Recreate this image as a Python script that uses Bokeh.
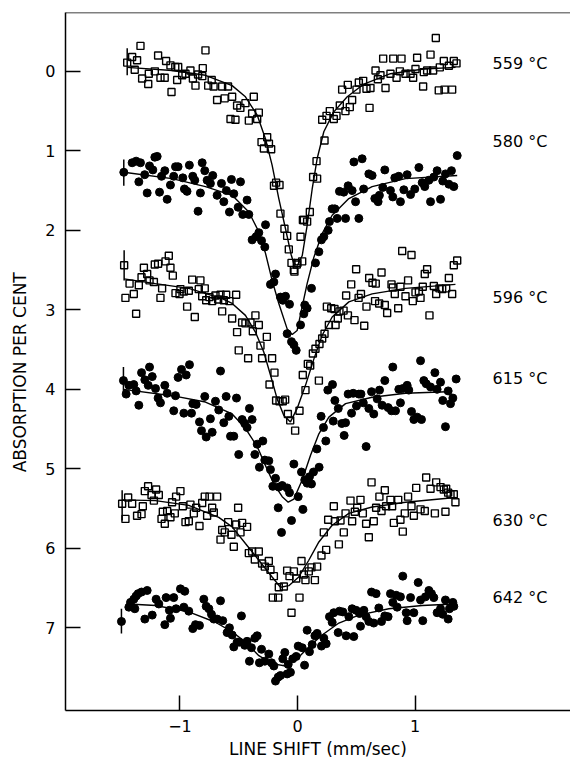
from bokeh.plotting import figure
from bokeh.models import Range1d, FixedTicker, Span
from bokeh.embed import file_html
from bokeh.resources import INLINE
from bokeh.core.properties import value

# ---------------- data ----------------
temps = ["559 °C", "580 °C", "596 °C", "615 °C", "630 °C", "642 °C"]
temp_label_y = [-0.10, 0.88, 2.84, 3.86, 5.65, 6.62]

x_ticks = [-1, 0, 1]
y_ticks = [0, 1, 2, 3, 4, 5, 6, 7]

# 559 C  (open squares)
s559_x = [-1.449, -1.336, -1.407, -1.365, -1.385, -1.186, -1.118, -1.081, -1.04, -1.015, -0.783, -0.806,
          -1.214, -1.265, -1.322, -1.27, -1.166, -1.13, -1.072, -1.024, -0.981, -0.953, -0.911, -0.89,
          -0.868, -0.846, -0.81, -0.76, -0.73, -0.714, -0.684, -0.641, -0.62, -0.591, -0.556, -0.57,
          -0.528, -0.514, -0.486, -0.443, -0.372, -0.414, -0.386, -0.329, -0.343, -0.258, -0.306, -0.243,
          -0.286, -0.224, -0.182, -0.2, -0.153, -0.145, -0.111, -0.088, -0.074, -0.051, -0.026, -0.006,
          0.026, 0.046, -0.031, 0.0, 0.04, 0.054, 0.082, 0.105, 0.133, 0.167, 0.162, 0.23,
          0.21, 0.247, 0.275, 0.309, 0.332, 0.36, 0.408, 0.445, 0.465, 0.38, 0.428, 0.502,
          0.522, 0.559, 0.587, 0.621, 0.613, 0.664, 0.706, 0.684, 0.749, 0.791, 0.729, 0.815,
          0.843, 0.871, 0.885, 0.919, 0.962, 0.984, 1.004, 1.018, 1.069, 1.075, 1.103, 1.132,
          1.154, 1.177, 1.202, 1.251, 1.316, 1.211, 1.245, 1.288, 1.33, 1.353]
s559_y = [-0.11, -0.32, -0.18, -0.14, -0.02, -0.20, -0.13, -0.075, -0.055, -0.055, -0.264, -0.04,
          0.0, 0.03, 0.09, 0.16, 0.08, 0.08, 0.26, 0.11, 0.05, 0.03, -0.01, 0.09,
          0.18, 0.04, 0.06, 0.18, 0.11, 0.19, 0.36, 0.19, 0.34, 0.19, 0.32, 0.60,
          0.61, 0.43, 0.46, 0.40, 0.32, 0.62, 0.53, 0.52, 0.60, 0.83, 0.89, 0.91,
          0.97, 0.98, 1.40, 1.44, 1.43, 1.79, 1.98, 2.07, 2.24, 2.41, 2.52, 2.43,
          2.08, 1.87, 2.50, 2.41, 2.39, 1.87, 1.89, 1.77, 1.33, 1.35, 1.13, 0.87,
          0.61, 0.56, 0.50, 0.60, 0.56, 0.43, 0.50, 0.45, 0.36, 0.23, 0.17, 0.23,
          0.14, 0.12, 0.22, 0.21, 0.46, -0.01, 0.05, 0.10, 0.21, 0.03, -0.16, -0.16,
          0.08, 0.0, -0.16, 0.03, 0.03, 0.08, -0.03, -0.17, 0.19, 0.01, -0.01, -0.21,
          -0.01, -0.42, 0.24, 0.23, 0.23, -0.05, -0.13, -0.07, -0.13, -0.10]

# 580 C  (filled circles)
s580_x = [-1.478, -1.407, -1.373, -1.336, -1.35, -1.3, -1.279, -1.259, -1.231, -1.194, -1.214, -1.174,
          -1.157, -1.129, -1.109, -1.081, -1.053, -1.038, -1.016, -0.976, -0.962, -0.94, -0.92, -0.891,
          -0.874, -0.846, -0.826, -0.811, -0.789, -0.769, -0.721, -0.741, -0.684, -0.647, -0.627, -0.605,
          -0.579, -0.562, -0.542, -0.505, -0.485, -0.466, -0.429, -0.414, -0.386, -0.352, -0.329, -0.306,
          -0.272, -0.278, -0.187, -0.23, -0.201, -0.145, -0.102, -0.125, -0.068, -0.088, -0.051, -0.031,
          -0.011, 0.026, 0.062, 0.082, 0.054, 0.119, 0.153, 0.182, 0.204, 0.224, 0.261, 0.272,
          0.295, 0.318, 0.338, 0.409, 0.357, 0.394, 0.431, 0.465, 0.48, 0.522, 0.494, 0.55,
          0.563, 0.607, 0.635, 0.658, 0.686, 0.697, 0.743, 0.726, 0.791, 0.811, 0.828, 0.862,
          0.876, 0.905, 0.933, 0.962, 0.998, 1.033, 1.061, 1.083, 1.118, 1.132, 1.16, 1.188,
          1.217, 1.236, 1.259, 1.288, 1.31, 1.33, 1.359]
s580_y = [1.27, 1.15, 1.13, 1.15, 1.39, 1.30, 1.53, 1.19, 1.24, 1.07, 1.08, 1.52,
          1.32, 1.25, 1.61, 1.43, 1.32, 1.20, 1.20, 1.34, 1.48, 1.51, 1.18, 1.32,
          1.37, 1.76, 1.53, 1.15, 1.25, 1.37, 1.31, 1.41, 1.56, 1.41, 1.64, 1.50,
          1.77, 1.36, 1.54, 1.71, 1.39, 1.80, 1.62, 1.80, 2.12, 2.08, 2.03, 2.13,
          1.93, 2.21, 2.55, 2.68, 2.65, 2.84, 2.83, 2.88, 2.93, 3.30, 3.40, 3.44,
          3.51, 3.19, 2.94, 2.98, 3.05, 2.73, 2.41, 2.27, 2.12, 2.08, 2.00, 1.89,
          1.73, 1.73, 1.85, 1.85, 1.51, 1.52, 1.44, 1.50, 1.14, 1.85, 1.64, 1.10,
          1.48, 1.29, 1.31, 1.60, 1.64, 1.56, 1.24, 1.46, 1.50, 1.58, 1.34, 1.32,
          1.64, 1.49, 1.30, 1.55, 1.48, 1.21, 1.40, 1.45, 1.37, 1.64, 1.33, 1.25,
          1.61, 1.38, 1.29, 1.42, 1.25, 1.45, 1.06]

# 596 C  (open squares)
s596_x = [-1.475, -1.464, -1.429, -1.393, -1.373, -1.35, -1.327, -1.307, -1.279, -1.259, -1.222, -1.214,
          -1.186, -1.166, -1.152, -1.123, -1.095, -1.081, -1.061, -1.038, -1.004, -0.996, -0.967, -0.939,
          -0.925, -0.896, -0.874, -0.826, -0.84, -0.811, -0.789, -0.777, -0.749, -0.726, -0.698, -0.675,
          -0.655, -0.641, -0.627, -0.607, -0.579, -0.556, -0.522, -0.514, -0.5, -0.471, -0.443, -0.42,
          -0.4, -0.38, -0.358, -0.329, -0.315, -0.301, -0.261, -0.238, -0.216, -0.196, -0.182, -0.153,
          -0.125, -0.105, -0.082, -0.062, -0.02, 0.017, 0.045, 0.068, 0.088, 0.108, 0.131, 0.153,
          0.182, 0.187, 0.21, 0.23, 0.25, 0.267, 0.287, 0.315, 0.324, 0.343, 0.357, 0.392,
          0.414, 0.429, 0.457, 0.485, 0.499, 0.52, 0.54, 0.568, 0.587, 0.61, 0.638, 0.666,
          0.66, 0.695, 0.715, 0.743, 0.763, 0.8, 0.811, 0.828, 0.857, 0.876, 0.891, 0.919,
          0.941, 0.97, 0.981, 1.004, 1.033, 1.047, 1.066, 1.083, 1.103, 1.123, 1.16, 1.18,
          1.208, 1.231, 1.265, 1.288, 1.316, 1.33, 1.359]
s596_y = [2.44, 2.85, 2.67, 2.80, 3.05, 2.69, 2.59, 2.47, 2.55, 2.63, 2.65, 2.43,
          2.42, 2.85, 2.73, 2.39, 2.32, 2.47, 2.57, 2.79, 2.80, 2.74, 2.77, 2.96,
          2.76, 2.62, 3.09, 2.63, 2.74, 2.83, 2.73, 2.88, 2.84, 2.89, 2.82, 2.87,
          2.81, 3.02, 2.88, 2.81, 2.89, 3.11, 2.81, 3.28, 3.51, 3.16, 3.17, 3.61,
          3.16, 3.27, 3.07, 3.19, 3.45, 3.61, 3.34, 3.94, 3.61, 3.79, 4.14, 4.15,
          4.15, 4.13, 4.31, 4.39, 4.52, 4.27, 3.82, 4.01, 3.68, 3.70, 3.55, 3.49,
          3.89, 3.43, 3.36, 3.30, 2.96, 3.19, 2.98, 2.99, 3.19, 3.11, 3.02, 3.01,
          2.82, 3.07, 2.68, 3.13, 2.49, 2.85, 2.80, 3.20, 2.96, 2.60, 2.66, 2.67,
          2.89, 2.92, 2.53, 2.94, 3.04, 2.68, 2.72, 2.80, 2.98, 2.71, 2.26, 2.83,
          2.63, 2.31, 2.89, 2.78, 2.77, 2.85, 2.71, 2.55, 2.49, 3.07, 2.70, 2.80,
          2.73, 2.74, 2.73, 2.60, 2.80, 2.44, 2.38]

# 615 C  (filled circles)
s615_x = [-1.481, -1.458, -1.435, -1.393, -1.373, -1.35, -1.327, -1.299, -1.259, -1.236, -1.27, -1.208,
          -1.186, -1.166, -1.129, -1.109, -1.053, -1.038, -1.016, -0.987, -0.947, -0.967, -0.919, -0.902,
          -0.891, -0.862, -0.834, -0.817, -0.789, -0.777, -0.741, -0.726, -0.698, -0.655, -0.67, -0.627,
          -0.607, -0.584, -0.57, -0.542, -0.519, -0.5, -0.471, -0.449, -0.429, -0.409, -0.386, -0.363,
          -0.343, -0.324, -0.295, -0.278, -0.244, -0.23, -0.187, -0.21, -0.159, -0.13, -0.088, -0.068,
          -0.031, 0.006, 0.034, 0.062, 0.082, 0.102, 0.119, 0.136, 0.165, 0.184, 0.201, 0.221,
          0.241, 0.258, 0.298, 0.318, 0.304, 0.347, 0.377, 0.397, 0.409, 0.431, 0.46, 0.474,
          0.502, 0.522, 0.54, 0.56, 0.584, 0.607, 0.63, 0.649, 0.678, 0.698, 0.72, 0.743,
          0.771, 0.8, 0.811, 0.834, 0.862, 0.876, 0.896, 0.933, 0.947, 0.97, 0.99, 1.018,
          1.047, 1.055, 1.075, 1.095, 1.132, 1.169, 1.188, 1.217, 1.236, 1.259, 1.282, 1.302,
          1.322, 1.35, -0.164, 0.046, -0.051, -0.136]
s615_y = [3.89, 4.06, 3.95, 3.94, 4.02, 4.20, 3.79, 3.88, 3.72, 3.84, 3.95, 3.99,
          4.11, 4.17, 3.95, 4.05, 4.27, 4.08, 3.85, 3.75, 3.82, 4.30, 3.69, 4.30,
          4.18, 4.19, 4.41, 4.52, 4.09, 4.60, 4.37, 4.54, 4.15, 3.77, 4.26, 4.42,
          4.09, 4.34, 4.59, 4.59, 4.11, 4.82, 4.38, 4.43, 4.48, 4.24, 4.38, 4.82,
          4.69, 4.98, 4.65, 4.89, 4.90, 5.01, 5.12, 5.22, 5.23, 5.21, 5.24, 5.30,
          4.94, 5.35, 5.04, 5.14, 5.18, 5.10, 5.19, 5.04, 4.75, 4.98, 4.34, 4.48,
          4.65, 4.01, 3.94, 4.14, 4.40, 4.24, 4.43, 4.58, 4.42, 4.06, 4.30, 4.05,
          4.21, 4.06, 4.06, 4.17, 4.72, 4.24, 4.03, 4.31, 4.12, 4.01, 4.20, 3.89,
          4.23, 4.27, 3.72, 4.27, 4.00, 4.17, 3.99, 3.95, 4.01, 4.28, 4.38, 4.35,
          3.64, 4.38, 3.89, 3.93, 3.97, 3.79, 4.00, 3.91, 4.14, 4.47, 4.02, 4.18,
          4.11, 3.87, 5.49, 5.51, 5.65, 5.80]

# 630 C  (open squares)
s630_x = [-1.492, -1.464, -1.441, -1.407, -1.365, -1.327, -1.316, -1.299, -1.271, -1.242, -1.222, -1.203,
          -1.18, -1.157, -1.146, -1.129, -1.109, -1.081, -1.067, -1.044, -1.033, -0.996, -0.976, -0.953,
          -0.925, -0.911, -0.882, -0.862, -0.834, -0.811, -0.789, -0.769, -0.749, -0.726, -0.712, -0.684,
          -0.655, -0.641, -0.619, -0.59, -0.562, -0.542, -0.522, -0.505, -0.485, -0.471, -0.429, -0.414,
          -0.386, -0.363, -0.329, -0.301, -0.278, -0.244, -0.23, -0.201, -0.159, -0.21, -0.164, -0.116,
          -0.088, -0.068, -0.051, -0.031, -0.011, 0.017, 0.034, 0.054, 0.068, 0.096, 0.119, 0.148,
          0.167, 0.204, 0.224, 0.244, 0.261, 0.309, 0.318, 0.352, 0.366, 0.394, 0.409, 0.451,
          0.465, 0.488, 0.508, 0.536, 0.556, 0.584, 0.607, 0.63, 0.649, 0.669, 0.697, 0.715,
          0.743, 0.754, 0.791, 0.805, 0.82, 0.857, 0.876, 0.896, 0.913, 0.941, 0.97, 0.99,
          1.01, 1.047, 1.083, 1.095, 1.132, 1.169, 1.18, 1.217, 1.245, 1.259, 1.282, 1.302,
          1.33, 1.344, 1.265]
s630_y = [5.44, 5.63, 5.36, 5.44, 5.59, 5.57, 5.47, 5.28, 5.22, 5.33, 5.40, 5.26,
          5.33, 5.63, 5.54, 5.69, 5.53, 5.61, 5.42, 5.56, 5.35, 5.28, 5.47, 5.67,
          5.66, 5.45, 5.56, 5.49, 5.72, 5.43, 5.35, 5.59, 5.35, 5.49, 5.55, 5.35,
          5.89, 5.77, 5.80, 5.67, 5.83, 5.98, 5.70, 5.49, 5.80, 5.68, 5.73, 6.06,
          6.04, 6.14, 6.04, 6.19, 6.23, 6.16, 6.27, 6.35, 6.49, 6.62, 6.62, 6.48,
          6.28, 6.35, 6.81, 6.29, 6.38, 6.62, 6.16, 6.33, 6.40, 6.29, 6.24, 6.40,
          6.23, 6.09, 5.80, 6.02, 5.64, 5.47, 5.66, 5.95, 5.65, 5.80, 5.56, 5.40,
          5.66, 5.54, 5.49, 5.39, 5.56, 5.69, 5.86, 5.17, 5.66, 5.49, 5.35, 5.53,
          5.27, 5.47, 5.39, 5.47, 5.68, 5.39, 5.64, 5.79, 5.56, 5.35, 5.47, 5.59,
          5.24, 5.51, 5.53, 5.11, 5.25, 5.56, 5.17, 5.23, 5.26, 5.54, 5.30, 5.32,
          5.32, 5.42, 5.25]

# 642 C  (filled circles)
s642_x = [-1.498, -1.435, -1.421, -1.393, -1.373, -1.356, -1.327, -1.299, -1.279, -1.384, -1.236, -1.203,
          -1.18, -1.129, -1.118, -1.09, -1.081, -1.053, -1.033, -0.996, -0.959, -0.967, -0.925, -0.891,
          -0.868, -0.834, -0.797, -0.777, -0.754, -0.732, -0.712, -0.684, -0.655, -0.636, -0.599, -0.579,
          -0.556, -0.542, -0.514, -0.494, -0.477, -0.449, -0.429, -0.409, -0.392, -0.363, -0.343, -0.324,
          -0.306, -0.278, -0.244, -0.221, -0.201, -0.187, -0.164, -0.145, -0.125, -0.108, -0.088, -0.079,
          -0.06, -0.04, -0.011, 0.006, 0.04, 0.06, 0.082, 0.102, 0.125, 0.148, 0.167, 0.204,
          0.224, 0.244, 0.272, 0.295, 0.309, 0.346, 0.357, 0.386, 0.414, 0.437, 0.465, 0.479,
          0.499, 0.528, 0.536, 0.565, 0.584, 0.607, 0.63, 0.649, 0.669, 0.692, 0.715, 0.743,
          0.771, 0.791, 0.811, 0.839, 0.848, 0.876, 0.896, 0.925, 0.933, 0.962, 0.99, 1.027,
          1.047, 1.066, 1.089, 1.118, 1.14, 1.16, 1.188, 1.217, 1.236, 1.259, 1.282, 1.293,
          1.322, 1.33]
s642_y = [6.92, 6.74, 6.68, 6.64, 6.60, 6.57, 6.55, 6.89, 6.53, 6.76, 6.84, 6.64,
          6.70, 6.96, 6.62, 6.78, 6.88, 6.62, 6.76, 6.51, 6.54, 6.74, 6.79, 7.01,
          6.96, 6.97, 6.64, 6.73, 6.76, 6.83, 6.89, 6.89, 6.66, 6.91, 7.06, 7.00,
          7.09, 7.24, 7.18, 7.18, 6.85, 7.22, 7.17, 7.42, 7.25, 7.13, 7.10, 7.44,
          7.27, 7.42, 7.33, 7.44, 7.48, 7.67, 7.62, 7.60, 7.39, 7.31, 7.58, 7.46,
          7.56, 7.39, 7.36, 7.23, 7.25, 7.47, 7.03, 7.30, 7.21, 7.10, 7.07, 7.23,
          7.13, 7.20, 6.86, 6.93, 6.81, 7.06, 6.79, 6.80, 7.10, 6.86, 6.76, 7.11,
          6.78, 6.82, 6.98, 6.78, 6.86, 6.92, 6.55, 6.94, 6.57, 6.75, 6.92, 6.85,
          6.86, 6.57, 6.68, 6.59, 6.74, 6.61, 6.35, 6.81, 6.91, 6.62, 6.81, 6.43,
          6.65, 6.91, 6.61, 6.53, 6.57, 6.62, 6.81, 6.76, 6.83, 6.65, 6.89, 6.76,
          6.68, 6.73]

# fitted curves
c559_x = [-1.449, -1.067, -0.783, -0.556, -0.443, -0.343, -0.272, -0.216, -0.159, -0.102, -0.055, -0.031,
          0.0, 0.04, 0.082, 0.125, 0.167, 0.224, 0.309, 0.423, 0.565, 0.791, 1.075, 1.345]
c559_y = [-0.05, -0.01, 0.05, 0.18, 0.32, 0.55, 0.85, 1.18, 1.60, 1.98, 2.30, 2.42,
          2.44, 2.32, 1.94, 1.48, 1.10, 0.76, 0.51, 0.32, 0.16, 0.03, -0.03, -0.05]
c580_x = [-1.478, -1.067, -0.783, -0.556, -0.414, -0.329, -0.272, -0.216, -0.159, -0.088, -0.045, -0.003,
          0.04, 0.082, 0.139, 0.21, 0.295, 0.437, 0.635, 0.919, 1.359]
c580_y = [1.27, 1.35, 1.45, 1.56, 1.77, 2.02, 2.29, 2.63, 2.92, 3.24, 3.31, 3.26,
          2.96, 2.67, 2.34, 2.04, 1.81, 1.60, 1.45, 1.35, 1.31]
c596_x = [-1.475, -1.208, -0.925, -0.641, -0.556, -0.443, -0.358, -0.287, -0.23, -0.173, -0.116, -0.06,
          -0.003, 0.068, 0.139, 0.21, 0.295, 0.437, 0.635, 0.919, 1.344]
c596_y = [2.61, 2.67, 2.73, 2.86, 2.92, 3.07, 3.28, 3.53, 3.82, 4.12, 4.33, 4.41,
          4.24, 3.95, 3.62, 3.32, 3.09, 2.90, 2.80, 2.73, 2.68]
c615_x = [-1.481, -1.067, -0.783, -0.556, -0.443, -0.343, -0.272, -0.201, -0.13, -0.079, -0.031, 0.04,
          0.111, 0.182, 0.267, 0.409, 0.635, 0.919, 1.274]
c615_y = [4.00, 4.08, 4.16, 4.31, 4.49, 4.72, 4.96, 5.19, 5.35, 5.42, 5.38, 5.14,
          4.83, 4.56, 4.35, 4.18, 4.10, 4.05, 4.03]
c630_x = [-1.492, -1.208, -0.925, -0.67, -0.556, -0.443, -0.329, -0.216, -0.145, -0.074, 0.011, 0.096,
          0.182, 0.295, 0.437, 0.635, 0.919, 1.344]
c630_y = [5.39, 5.40, 5.46, 5.61, 5.73, 5.94, 6.15, 6.36, 6.49, 6.47, 6.36, 6.15,
          5.92, 5.71, 5.56, 5.48, 5.42, 5.36]
c642_x = [-1.435, -1.208, -0.925, -0.698, -0.556, -0.443, -0.329, -0.216, -0.102, -0.003, 0.096, 0.21,
          0.352, 0.522, 0.777, 1.061, 1.33]
c642_y = [6.70, 6.72, 6.80, 6.93, 7.05, 7.18, 7.35, 7.45, 7.48, 7.39, 7.24, 7.09,
          6.94, 6.84, 6.76, 6.72, 6.70]

# representative error bars at the first point of each run
eb_x = [-1.449, -1.478, -1.475, -1.481, -1.492, -1.498]
eb_lo = [-0.29, 1.11, 2.25, 3.72, 5.27, 6.76]
eb_hi = [0.05, 1.44, 2.63, 4.05, 5.65, 7.07]

# ---------------- figure ----------------
FONT = "DejaVu Sans"
p = figure(width=570, height=765, output_backend="svg", toolbar_location=None,
           x_range=Range1d(-1.974, 2.323), y_range=Range1d(8.04, -0.74),
           min_border_left=65, min_border_right=0, min_border_top=12, min_border_bottom=55,
           background_fill_color="white", border_fill_color="white")
p.outline_line_color = None
p.xgrid.visible = False
p.ygrid.visible = False

for ax in (p.xaxis[0], p.yaxis[0]):
    ax.major_tick_in = 15
    ax.major_tick_out = 0
    ax.minor_tick_line_color = None
    ax.axis_line_width = 1.5
    ax.major_tick_line_width = 1.5
    ax.axis_line_color = "black"
    ax.major_tick_line_color = "black"
    ax.major_label_text_font = FONT
    ax.major_label_text_font_size = "16px"
    ax.major_label_text_color = "black"
    ax.axis_label_text_font = FONT
    ax.axis_label_text_font_size = "17px"
    ax.axis_label_text_font_style = "normal"
    ax.axis_label_text_color = "black"

p.xaxis.ticker = FixedTicker(ticks=x_ticks)
p.yaxis.ticker = FixedTicker(ticks=y_ticks)
p.xaxis.axis_label = "LINE SHIFT (mm/sec)"
p.yaxis.axis_label = "ABSORPTION   PER   CENT"
p.xaxis.major_label_standoff = 9
p.yaxis.major_label_standoff = 10
p.xaxis.axis_label_standoff = 4
p.yaxis.axis_label_standoff = 12

p.add_layout(Span(location=-0.74, dimension="width", line_color="black", line_width=1.5))

curves = [(c559_x, c559_y), (c580_x, c580_y), (c596_x, c596_y),
          (c615_x, c615_y), (c630_x, c630_y), (c642_x, c642_y)]
for cx, cy in curves:
    p.line(cx, cy, line_color="black", line_width=1.4)

p.segment(x0=eb_x, y0=eb_lo, x1=eb_x, y1=eb_hi, line_color="black", line_width=1.5)

for sx, sy in [(s559_x, s559_y), (s596_x, s596_y), (s630_x, s630_y)]:
    p.scatter(sx, sy, marker="square", size=7, fill_color=None,
              line_color="black", line_width=1.4)
for sx, sy in [(s580_x, s580_y), (s615_x, s615_y), (s642_x, s642_y)]:
    p.scatter(sx, sy, marker="circle", size=8, fill_color="black", line_color="black")

p.text(x=[1.66] * len(temps), y=temp_label_y, text=temps,
       text_font=value(FONT), text_font_size="16px", text_color="black",
       text_align="left", text_baseline="middle")

open("out.html", "w").write(file_html(p, INLINE))
